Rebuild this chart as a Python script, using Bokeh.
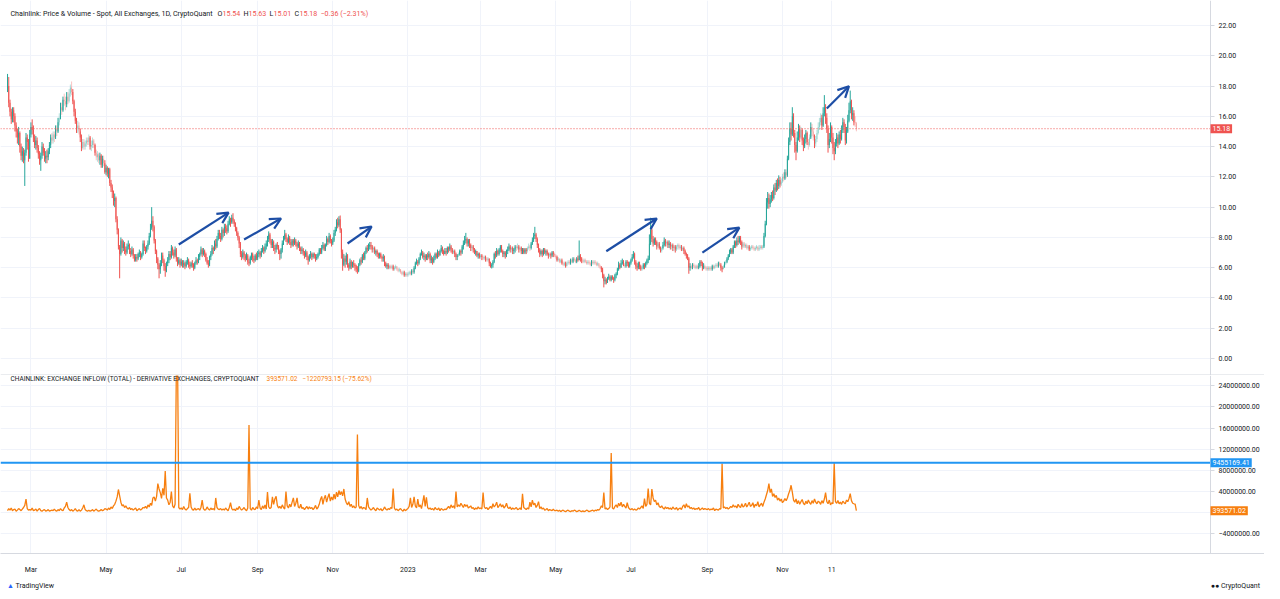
import pandas as pd
from bokeh.plotting import figure
from bokeh.layouts import column
from bokeh.models import (ColumnDataSource, Range1d, FixedTicker, Span, Label,
                          Arrow, OpenHead, Div, BoxAnnotation)
from bokeh.embed import file_html
from bokeh.resources import INLINE

# ---------------- DATA ----------------
start_date = "2022-02-10"
first_open = 17.9

# daily close / high / low, one list per month
c22_02 = [18.6,16.9,16.3,15.8,16.4,16.0,15.4,15.0,14.6,14.9,14.0,13.4,13.7,13.1,13.6,14.6,14.3,13.2,14.8]
h22_02 = [18.8,18.0,17.1,16.5,16.6,16.6,16.2,15.6,15.2,15.3,15.0,14.2,14.0,13.9,13.8,14.9,14.8,14.5,15.1]
l22_02 = [17.6,16.6,16.0,15.5,15.6,15.6,15.0,14.6,14.2,14.1,13.6,13.1,13.0,12.9,11.4,13.4,13.8,13.0,13.2]
c22_03 = [15.3,15.1,14.6,14.1,14.4,13.9,13.5,13.1,13.4,14.0,13.6,13.2,13.4,13.3,13.7,14.1,14.6,14.4,14.8,14.6,15.2,15.0,15.6,15.9,16.6,16.4,17.1,17.0,16.8,17.3,17.0]
h22_03 = [15.6,15.8,15.4,14.8,14.7,14.6,14.1,13.7,13.6,14.3,14.2,13.9,13.7,13.8,13.9,14.3,14.8,14.9,15.0,15.0,15.4,15.4,15.9,16.2,16.9,16.9,17.3,17.5,17.3,17.6,17.6]
l22_03 = [14.6,14.8,14.3,13.9,13.8,13.6,13.2,12.8,12.4,13.2,13.4,13.0,12.9,12.9,13.1,13.5,13.9,14.2,14.2,14.3,14.5,14.7,14.9,15.4,15.8,16.1,16.3,16.7,16.4,16.6,16.8]
c22_04 = [17.5,17.9,17.6,17.0,16.3,15.7,15.2,15.4,15.0,14.6,13.9,14.3,14.0,14.2,14.4,14.3,14.6,14.0,14.1,14.4,14.1,13.6,13.3,13.5,13.1,13.4,12.8,13.2,12.9,12.3]
h22_04 = [17.8,18.1,18.3,17.8,17.1,16.5,15.9,15.7,15.6,15.2,14.8,14.5,14.5,14.4,14.6,14.6,14.8,14.7,14.4,14.6,14.5,14.2,13.8,13.7,13.6,13.6,13.5,13.4,13.4,13.1]
l22_04 = [16.9,17.3,17.4,16.8,16.0,15.5,14.9,14.9,14.8,14.3,13.7,13.8,13.8,13.8,14.0,14.1,14.1,13.8,13.7,13.9,13.9,13.4,13.1,13.0,12.9,12.8,12.6,12.6,12.7,12.2]
c22_05 = [12.6,12.2,12.5,11.6,11.3,11.0,10.4,10.6,9.2,8.5,7.4,6.9,7.8,7.3,7.6,7.2,7.0,7.4,7.5,7.1,6.9,7.2,6.8,6.5,6.7,6.6,6.9,7.0,6.7,6.9,7.6]
h22_05 = [12.8,12.7,12.6,12.6,11.8,11.5,11.1,10.9,10.7,9.4,8.6,7.5,8.0,7.9,7.8,7.7,7.4,7.6,7.8,7.6,7.3,7.4,7.3,6.9,6.9,6.9,7.0,7.2,7.1,7.0,7.8]
l22_05 = [12.1,12.0,11.9,11.4,11.0,10.6,10.1,10.0,9.0,8.2,7.2,5.3,6.8,7.0,7.1,6.9,6.8,6.9,7.2,6.9,6.7,6.8,6.6,6.4,6.4,6.4,6.5,6.7,6.5,6.6,6.8]
c22_06 = [7.3,7.1,7.4,7.6,8.1,8.6,9.1,8.7,7.8,7.1,6.6,6.2,5.9,6.3,6.8,6.5,6.1,5.8,6.3,6.5,6.9,6.7,7.3,7.0,6.8,7.2,6.6,6.3,6.5,6.2]
h22_06 = [7.8,7.4,7.5,7.8,8.3,8.9,10.0,9.4,8.8,7.9,7.2,6.7,6.3,6.5,7.0,7.0,6.6,6.3,6.4,6.7,7.1,7.1,7.5,7.4,7.2,7.4,7.3,6.7,6.7,6.6]
l22_06 = [7.1,6.9,7.0,7.2,7.5,8.0,8.5,8.4,7.6,6.9,6.3,5.9,5.3,5.6,6.1,6.3,5.8,5.4,5.7,6.1,6.3,6.5,6.6,6.8,6.6,6.7,6.4,6.1,6.2,6.0]
c22_07 = [6.4,6.2,6.3,6.1,6.4,6.5,6.2,6.1,6.3,6.2,6.0,6.3,6.5,6.4,6.7,6.9,7.2,6.9,7.1,6.9,6.5,6.3,6.2,6.7,6.9,7.3,7.2,7.6,7.4,7.9,8.3]
h22_07 = [6.6,6.5,6.5,6.4,6.5,6.7,6.6,6.4,6.4,6.5,6.3,6.4,6.7,6.6,6.9,7.0,7.4,7.3,7.3,7.2,7.0,6.7,6.5,6.8,7.1,7.5,7.4,7.8,7.9,8.1,8.5]
l22_07 = [6.1,6.0,6.0,5.9,6.0,6.2,6.0,5.9,6.0,6.0,5.8,5.9,6.2,6.2,6.3,6.5,6.8,6.7,6.8,6.7,6.4,6.2,6.0,6.1,6.5,6.8,6.9,7.1,7.2,7.3,7.8]
c22_08 = [8.1,7.9,8.5,8.3,8.7,8.6,8.4,8.9,9.2,9.0,9.3,9.1,8.9,8.6,8.3,8.0,7.6,6.9,6.7,7.0,6.8,6.6,6.8,6.4,6.3,6.7,6.9,6.6,6.5,6.8,6.6]
h22_08 = [8.5,8.3,8.7,8.6,8.9,8.9,8.8,9.1,9.4,9.3,9.5,9.6,9.2,9.0,8.7,8.4,8.1,7.7,7.1,7.2,7.1,6.9,7.0,6.9,6.6,6.8,7.0,7.0,6.8,6.9,7.0]
l22_08 = [7.9,7.7,7.8,8.0,8.1,8.3,8.2,8.3,8.8,8.7,8.9,8.9,8.7,8.4,8.1,7.8,7.3,6.7,6.5,6.6,6.5,6.4,6.5,6.2,6.1,6.2,6.5,6.4,6.3,6.4,6.5]
c22_09 = [6.9,7.0,6.8,7.1,7.3,7.1,7.4,7.6,7.9,8.2,7.8,7.5,7.7,7.3,7.2,7.5,7.4,7.1,6.9,7.2,7.6,7.9,8.2,7.9,7.7,8.0,7.7,7.5,7.8,7.6]
h22_09 = [7.1,7.2,7.1,7.3,7.5,7.4,7.6,7.8,8.1,8.4,8.3,7.9,7.9,7.8,7.5,7.6,7.7,7.5,7.2,7.3,7.8,8.1,8.5,8.3,8.0,8.2,8.1,7.9,7.9,7.9]
l22_09 = [6.5,6.7,6.6,6.7,7.0,6.9,7.0,7.2,7.4,7.7,7.6,7.3,7.3,7.1,6.9,7.0,7.2,6.9,6.5,6.6,7.0,7.5,7.8,7.7,7.5,7.6,7.5,7.3,7.4,7.4]
c22_10 = [7.8,7.6,7.4,7.6,7.3,7.1,7.2,7.0,6.8,7.0,6.7,6.5,6.8,6.9,6.7,6.9,6.8,6.6,6.7,6.9,7.2,7.0,7.3,7.5,7.2,7.5,7.9,7.7,8.1,7.8,7.6]
h22_10 = [8.0,7.9,7.7,7.8,7.7,7.4,7.4,7.3,7.1,7.2,7.1,6.8,6.9,7.1,7.0,7.0,7.0,6.9,6.9,7.0,7.3,7.3,7.5,7.7,7.6,7.6,8.1,8.0,8.3,8.2,7.9]
l22_10 = [7.5,7.4,7.2,7.3,7.1,6.9,6.9,6.8,6.6,6.7,6.5,6.2,6.4,6.6,6.5,6.6,6.6,6.4,6.5,6.6,6.8,6.9,6.9,7.2,7.1,7.1,7.4,7.5,7.6,7.6,7.4]
c22_11 = [7.8,8.3,8.5,9.0,8.8,9.2,8.5,7.0,6.2,6.6,6.4,6.8,6.2,6.0,6.4,6.1,6.3,6.2,6.1,5.9,5.8,6.2,6.5,6.4,6.8,6.6,7.0,7.3,7.2,7.4]
h22_11 = [8.0,8.5,8.7,9.2,9.3,9.4,9.45,8.6,7.2,6.9,6.8,7.0,6.9,6.3,6.6,6.5,6.4,6.5,6.3,6.2,6.1,6.3,6.6,6.7,6.9,7.0,7.1,7.4,7.5,7.6]
l22_11 = [7.5,7.7,8.1,8.4,8.6,8.7,8.3,6.6,5.8,6.1,6.0,6.2,6.0,5.8,5.9,5.9,6.0,6.0,5.8,5.7,5.6,5.7,6.1,6.2,6.3,6.5,6.5,6.9,7.0,7.1]
c22_12 = [7.5,7.4,7.2,7.3,7.0,7.1,6.9,6.8,6.9,6.7,6.6,6.7,6.3,6.1,6.2,6.0,6.1,6.0,6.1,5.9,6.0,6.1,5.9,5.8,5.9,5.7,5.6,5.7,5.5,5.6,5.5]
h22_12 = [7.7,7.7,7.5,7.4,7.4,7.2,7.2,7.0,7.0,7.0,6.8,6.9,6.8,6.4,6.3,6.3,6.2,6.2,6.2,6.2,6.1,6.2,6.1,6.0,6.0,5.9,5.8,5.8,5.8,5.7,5.7]
l22_12 = [7.2,7.2,7.0,7.0,6.9,6.8,6.7,6.6,6.6,6.6,6.4,6.4,6.1,6.0,5.9,5.9,5.9,5.9,5.9,5.8,5.8,5.9,5.8,5.7,5.7,5.6,5.5,5.5,5.4,5.4,5.4]
c23_01 = [5.6,5.7,5.6,5.8,5.7,6.0,6.3,6.4,6.3,6.6,6.9,7.0,6.7,6.8,6.6,6.8,6.7,6.9,6.5,6.6,6.4,6.6,6.9,6.7,7.0,6.8,7.1,7.3,7.1,6.9,7.1]
h23_01 = [5.7,5.8,5.8,5.9,5.9,6.1,6.4,6.6,6.5,6.7,7.0,7.2,7.1,7.0,6.9,6.9,7.0,7.1,7.0,6.8,6.7,6.8,7.0,7.0,7.2,7.1,7.2,7.5,7.4,7.2,7.3]
l23_01 = [5.4,5.5,5.5,5.5,5.6,5.6,5.9,6.2,6.1,6.2,6.5,6.8,6.6,6.5,6.4,6.5,6.5,6.6,6.3,6.3,6.2,6.3,6.5,6.6,6.6,6.7,6.8,7.0,6.9,6.8,6.9]
c23_02 = [7.0,7.3,7.2,7.4,7.2,7.0,7.1,6.9,6.7,6.8,6.9,7.1,7.0,7.4,7.6,7.8,7.9,7.6,7.8,7.5,7.3,7.4,7.2,7.0,7.1,6.8,6.9,6.7]
h23_02 = [7.3,7.4,7.4,7.6,7.5,7.3,7.2,7.2,7.0,6.9,7.0,7.2,7.2,7.5,7.8,8.1,8.3,8.0,7.9,7.9,7.6,7.5,7.5,7.3,7.2,7.1,7.0,7.0]
l23_02 = [6.8,6.9,7.0,7.1,7.0,6.9,6.9,6.7,6.5,6.5,6.7,6.8,6.8,6.9,7.2,7.5,7.6,7.4,7.4,7.3,7.1,7.1,7.0,6.9,6.8,6.7,6.6,6.6]
c23_03 = [6.8,6.7,6.6,6.7,6.6,6.5,6.6,6.3,6.1,6.2,6.4,6.9,6.8,7.1,6.9,7.2,7.4,7.1,6.9,7.0,6.8,7.1,7.2,7.4,7.2,7.3,7.1,7.2,7.4,7.3,7.4]
h23_03 = [6.9,6.9,6.8,6.8,6.8,6.7,6.7,6.6,6.4,6.3,6.5,7.0,7.1,7.3,7.2,7.3,7.5,7.5,7.2,7.1,7.1,7.2,7.4,7.6,7.5,7.4,7.4,7.3,7.5,7.5,7.6]
l23_03 = [6.6,6.5,6.5,6.5,6.4,6.4,6.4,6.1,6.0,5.95,6.0,6.3,6.6,6.7,6.8,6.8,7.0,7.0,6.7,6.7,6.6,6.7,6.9,7.1,7.0,7.0,6.9,6.9,7.0,7.1,7.2]
c23_04 = [7.2,7.3,7.1,7.2,7.0,7.2,7.1,7.3,7.4,7.3,7.6,7.8,8.1,8.2,7.9,7.5,7.2,6.9,7.1,6.9,7.2,7.0,7.1,6.9,6.8,6.9,6.8,7.0,6.9,6.8]
h23_04 = [7.5,7.4,7.4,7.3,7.3,7.3,7.3,7.4,7.6,7.5,7.7,8.0,8.3,8.7,8.3,8.0,7.6,7.3,7.2,7.2,7.3,7.3,7.2,7.2,7.0,7.0,7.0,7.1,7.1,7.0]
l23_04 = [7.0,7.0,6.9,6.9,6.9,6.9,6.9,7.0,7.2,7.1,7.2,7.5,7.7,7.9,7.7,7.3,7.0,6.7,6.8,6.7,6.8,6.9,6.8,6.8,6.6,6.7,6.6,6.7,6.7,6.7]
c23_05 = [6.7,6.5,6.6,6.4,6.5,6.3,6.2,6.3,6.1,6.3,6.4,6.3,6.5,6.4,6.6,6.5,6.4,6.6,6.5,6.8,6.6,6.5,6.4,6.5,6.4,6.3,6.4,6.3,6.2,6.4,6.3]
h23_05 = [6.9,6.8,6.7,6.6,6.6,6.6,6.4,6.4,6.4,6.4,6.5,6.5,6.6,6.6,6.7,6.7,6.6,6.7,6.8,7.8,6.9,6.7,6.6,6.6,6.6,6.5,6.5,6.5,6.4,6.5,6.5]
l23_05 = [6.6,6.4,6.4,6.3,6.3,6.2,6.1,6.1,6.0,6.1,6.2,6.2,6.2,6.3,6.3,6.4,6.3,6.3,6.4,6.5,6.4,6.3,6.3,6.3,6.3,6.2,6.2,6.2,6.1,6.1,6.2]
c23_06 = [6.4,6.3,6.2,6.3,6.1,6.0,5.9,5.5,5.1,5.2,5.0,5.3,5.4,5.2,5.4,5.3,5.2,5.5,5.6,5.9,6.2,6.0,6.3,6.4,6.2,6.1,6.4,6.3,6.1,6.3]
h23_06 = [6.5,6.5,6.4,6.4,6.3,6.2,6.1,6.0,5.6,5.4,5.3,5.4,5.6,5.5,5.5,5.5,5.4,5.6,5.7,6.0,6.4,6.3,6.5,6.6,6.5,6.3,6.5,6.5,6.4,6.4]
l23_06 = [6.2,6.2,6.1,6.1,6.0,5.9,5.7,5.3,4.7,4.9,4.9,5.0,5.2,5.1,5.1,5.2,5.0,5.1,5.3,5.5,5.8,5.9,6.0,6.2,6.1,6.0,6.0,6.1,6.0,6.0]
c23_07 = [6.5,6.7,6.9,6.4,6.1,6.0,6.3,6.1,5.9,6.0,6.2,6.1,6.3,6.5,6.6,7.6,8.5,7.9,7.6,7.9,7.7,7.4,7.6,7.3,7.1,7.3,7.5,7.8,7.6,7.7,7.5]
h23_07 = [6.6,6.9,7.1,7.0,6.5,6.3,6.4,6.4,6.2,6.1,6.3,6.3,6.4,6.6,6.8,8.2,9.3,8.6,8.1,8.0,8.0,7.8,7.7,7.7,7.4,7.4,7.7,8.0,7.9,7.8,7.8]
l23_07 = [6.2,6.4,6.6,6.2,5.9,5.8,5.9,5.9,5.8,5.8,5.9,5.9,6.0,6.2,6.3,6.5,7.5,7.7,7.4,7.5,7.5,7.2,7.3,7.2,7.0,7.0,7.2,7.4,7.4,7.4,7.3]
c23_08 = [7.6,7.4,7.5,7.3,7.4,7.2,7.4,7.5,7.3,7.4,7.2,7.3,7.1,6.9,6.8,6.6,6.0,6.1,6.0,6.2,6.1,6.0,6.1,6.0,6.1,6.4,6.3,6.0,6.1,6.0,5.9]
h23_08 = [7.8,7.7,7.6,7.6,7.5,7.5,7.5,7.6,7.6,7.5,7.5,7.4,7.4,7.2,7.0,6.9,6.7,6.3,6.2,6.3,6.3,6.2,6.2,6.2,6.3,6.5,6.5,6.4,6.3,6.2,6.1]
l23_08 = [7.3,7.2,7.2,7.1,7.1,7.0,7.1,7.2,7.2,7.2,7.1,7.1,6.9,6.8,6.6,6.5,5.6,5.8,5.9,5.9,6.0,5.9,5.9,5.9,5.9,6.0,6.1,5.8,5.9,5.9,5.8]
c23_09 = [6.0,5.9,6.0,5.9,6.1,6.0,6.1,6.2,6.1,6.3,6.2,6.0,5.9,6.1,6.3,6.4,6.6,6.8,7.0,7.2,7.0,7.4,7.7,7.5,7.8,7.7,8.0,7.7,7.4,7.6]
h23_09 = [6.1,6.1,6.1,6.1,6.2,6.2,6.2,6.3,6.3,6.4,6.4,6.3,6.1,6.2,6.4,6.5,6.7,6.9,7.2,7.3,7.3,7.5,7.8,7.8,8.0,8.1,8.1,8.1,7.8,7.7]
l23_09 = [5.8,5.8,5.8,5.8,5.8,5.9,5.9,6.0,6.0,6.0,6.1,5.8,5.7,5.9,6.0,6.2,6.3,6.5,6.7,6.9,6.9,6.9,7.3,7.3,7.4,7.5,7.6,7.5,7.2,7.3]
c23_10 = [7.4,7.5,7.3,7.4,7.2,7.3,7.4,7.3,7.2,7.3,7.4,7.2,7.3,7.4,7.3,7.4,8.1,8.9,10.3,10.6,10.2,10.5,10.8,10.6,11.3,11.1,11.6,11.4,11.8,11.5,11.7]
h23_10 = [7.7,7.6,7.6,7.5,7.5,7.4,7.5,7.5,7.4,7.4,7.5,7.4,7.5,7.5,7.5,7.5,8.3,9.1,10.6,11.0,10.9,10.8,11.0,11.1,11.5,11.6,11.8,11.9,12.1,12.0,11.9]
l23_10 = [7.3,7.3,7.2,7.2,7.1,7.1,7.2,7.2,7.1,7.1,7.2,7.1,7.1,7.2,7.2,7.2,7.3,8.0,8.8,9.9,9.9,10.0,10.3,10.4,10.5,10.8,11.0,11.1,11.2,11.3,11.4]
c23_11 = [12.0,11.9,12.3,12.1,13.2,14.3,15.2,14.8,16.0,14.9,14.1,13.7,14.6,15.2,14.6,15.1,14.4,14.0,14.5,14.9,14.3,14.1,14.6,15.3,15.0,14.6,14.2,14.5,14.9,15.3]
h23_11 = [12.2,12.3,12.5,12.5,13.4,14.6,15.6,15.6,16.6,16.2,15.1,14.3,15.0,15.5,15.4,15.3,15.2,14.6,14.8,15.1,15.0,14.5,14.8,15.6,15.5,15.2,14.8,14.7,15.1,15.6]
l23_11 = [11.6,11.7,11.8,11.9,12.0,13.1,14.1,14.4,14.7,14.6,13.6,13.1,13.6,14.4,14.3,14.5,14.1,13.7,13.9,14.2,14.1,13.8,14.0,14.5,14.7,14.4,13.9,14.0,14.3,14.8]
c23_12 = [15.6,15.9,15.4,16.2,16.6,15.9,15.2,14.1,14.5,15.3,14.6,13.9,13.7,14.2,14.6,14.2,14.8,14.5,15.1,15.6,15.3,14.4,15.0,15.7,16.4,17.0,16.1,16.2,15.6,15.54,15.18]
h23_12 = [15.9,16.2,16.1,16.6,17.4,16.8,16.2,15.4,14.9,15.6,15.4,14.9,14.3,14.5,14.9,14.8,15.0,15.1,15.4,15.9,15.8,15.5,15.3,16.1,16.9,17.7,17.1,16.6,16.4,16.0,15.63]
l23_12 = [15.1,15.4,15.1,15.3,16.0,15.5,14.9,13.6,13.9,14.3,14.2,13.5,13.1,13.5,14.0,13.9,14.1,14.2,14.4,14.9,14.9,14.1,14.2,14.9,15.6,16.2,15.8,15.7,15.4,15.3,15.01]

# exchange inflow (derivative exchanges), in millions, one list per month
f22_02 = [0.4,0.8,0.5,0.9,0.4,0.6,0.7,0.3,0.5,0.8,0.6,0.4,0.7,1.0,1.4,2.6,0.8,0.5,0.6]
f22_03 = [0.5,0.9,0.4,0.5,0.7,0.3,0.6,0.8,0.4,0.3,0.5,0.6,0.3,0.4,0.6,0.3,0.4,0.5,0.4,0.7,0.4,0.3,0.6,0.4,0.8,0.5,0.4,0.9,1.2,2.0,1.0]
f22_04 = [0.6,0.4,0.6,0.3,0.5,0.8,0.4,0.3,0.6,0.3,0.5,0.9,1.5,0.6,0.4,0.3,0.5,0.3,0.4,0.6,0.3,0.5,0.7,0.4,0.3,0.4,0.6,0.4,0.5,0.8]
f22_05 = [0.7,0.5,0.9,0.6,1.1,0.8,1.3,1.6,2.2,3.0,4.4,3.2,2.0,1.3,1.5,1.0,1.3,0.9,0.7,1.0,0.6,0.8,0.5,0.7,0.9,0.4,0.6,0.8,0.5,0.7,1.0]
f22_06 = [0.9,1.2,0.8,1.5,1.1,1.8,1.4,2.8,3.0,2.2,3.1,5.5,4.5,3.8,2.7,4.6,3.3,7.9,2.8,2.4,1.5,2.0,4.0,1.3,0.9,1.6,26.5,29.0,1.0,0.7]
f22_07 = [0.9,0.6,1.2,0.7,0.5,0.8,1.0,3.7,1.1,0.6,0.5,0.9,0.5,0.7,0.8,0.5,1.0,2.4,0.8,0.5,0.6,1.1,0.7,0.5,0.9,0.6,0.8,0.5,2.8,1.0,0.7]
f22_08 = [0.6,0.8,0.5,0.7,0.5,0.9,0.6,0.4,1.0,1.9,0.8,0.5,0.7,0.4,0.9,0.6,1.2,0.8,0.5,0.7,1.0,0.6,0.4,0.9,16.6,0.8,0.5,1.0,0.7,0.6,1.1]
f22_09 = [0.8,2.4,0.9,0.6,1.3,0.8,1.5,0.7,3.9,1.1,0.8,1.0,3.0,1.6,2.6,3.1,1.4,0.9,1.2,0.8,1.5,1.0,0.7,4.0,1.3,0.9,1.6,1.1,2.0,2.8]
f22_10 = [1.2,1.8,2.8,1.1,0.9,1.6,0.8,1.0,0.6,0.9,1.2,0.7,1.1,0.8,1.0,0.6,0.9,1.4,0.7,1.0,1.6,2.5,3.1,1.6,2.7,3.3,2.0,2.9,3.6,2.2,3.0]
f22_11 = [2.4,3.5,2.6,3.9,3.0,4.2,3.4,4.0,3.2,4.5,2.6,1.9,1.5,2.1,1.2,1.6,1.0,1.3,0.9,1.1,14.8,1.4,0.8,1.2,0.7,1.0,0.9,0.6,2.8,1.1]
f22_12 = [0.8,0.5,0.7,1.0,0.6,0.4,0.9,0.7,0.5,0.8,0.4,0.6,1.1,0.7,0.5,0.8,0.6,1.0,0.8,4.6,0.9,0.5,0.7,0.4,0.6,0.8,0.5,0.3,0.7,0.4,0.6]
f23_01 = [0.8,1.2,2.8,1.0,1.6,3.0,1.3,0.9,2.6,1.1,1.5,0.8,2.0,3.3,1.2,2.9,1.0,0.7,0.9,0.6,0.8,0.5,1.0,0.7,0.6,0.9,0.4,0.8,0.6,0.5,0.7]
f23_02 = [0.6,0.9,1.2,0.8,1.5,1.0,1.3,0.8,4.0,1.1,1.5,1.2,1.8,1.4,1.0,1.6,1.2,1.5,0.9,1.1,1.3,0.8,1.0,0.6,0.9,0.7,1.1,0.8]
f23_03 = [0.9,0.7,3.8,1.1,0.8,1.0,0.6,0.9,1.2,0.8,1.7,1.1,1.4,2.0,1.0,1.3,1.7,1.1,1.5,0.9,1.2,1.8,1.0,0.8,1.1,0.6,0.9,0.7,0.8,1.0,0.6]
f23_04 = [0.7,0.9,0.6,3.6,1.0,0.8,0.6,0.9,0.7,2.0,1.1,2.4,1.5,1.8,1.0,1.4,2.1,0.8,1.1,0.7,0.9,0.5,0.6,0.8,0.4,0.6,0.5,0.4,0.7,0.4]
f23_05 = [0.4,0.5,0.3,0.5,0.2,0.4,0.5,0.3,0.2,0.4,0.5,0.3,0.2,0.4,0.3,0.5,0.4,0.2,0.3,0.5,0.3,0.2,0.4,0.2,0.3,0.5,0.4,0.2,0.3,0.4,0.5]
f23_06 = [0.3,0.5,0.4,0.6,0.5,0.8,1.3,1.0,3.8,0.7,0.9,0.6,0.8,1.1,11.3,0.9,0.7,1.2,1.5,1.0,1.8,1.3,2.0,1.1,1.6,1.2,0.9,1.9,1.0,0.7]
f23_07 = [0.6,0.8,0.5,0.7,0.5,0.6,0.9,0.7,1.0,1.3,0.8,2.7,1.2,1.6,4.6,1.8,1.5,4.5,2.8,2.1,2.4,1.5,1.9,1.2,1.0,1.3,0.9,0.7,1.1,0.8,1.0]
f23_08 = [0.7,0.9,0.6,1.1,0.8,0.7,1.0,0.5,0.8,0.9,0.6,1.2,1.5,0.9,1.7,1.1,1.3,0.8,1.0,0.7,0.9,0.6,0.8,0.7,1.0,0.5,0.7,0.9,0.6,0.8,0.7]
f23_09 = [0.6,0.8,0.5,0.7,0.6,0.9,0.4,0.7,0.6,0.5,0.8,0.7,9.3,0.9,1.1,0.8,1.0,0.7,0.9,1.2,1.0,1.5,1.1,1.3,0.9,1.6,1.2,1.0,1.7,1.1]
f23_10 = [1.3,1.8,1.1,1.5,2.0,1.2,1.4,1.9,1.0,1.6,1.3,2.1,1.1,1.5,1.8,1.2,2.0,2.6,3.4,4.2,5.5,3.8,4.5,3.1,3.6,2.9,3.3,2.4,2.8,2.2,2.6]
f23_11 = [1.9,2.2,2.7,2.3,2.8,3.6,4.2,5.2,3.9,2.4,2.0,2.6,1.7,2.3,1.6,2.1,2.5,1.8,1.5,2.2,1.7,2.4,1.9,1.6,2.3,1.8,2.6,2.0,1.7,2.2]
f23_12 = [2.0,1.6,2.3,1.8,2.6,3.8,2.1,1.7,2.4,1.5,1.9,1.7,9.46,2.1,1.8,2.3,1.7,2.0,1.6,2.2,1.9,1.7,2.4,2.1,2.7,3.6,2.3,1.8,1.7,1.614,0.394]

inflow_level = 9455169.41     # horizontal reference line
last_inflow = 393571.02
price_change_text = "\u22120.36 (\u22122.31%)"
inflow_change_text = "\u22121220793.15 (\u221275.62%)"

price_ticks = [0, 2, 4, 6, 8, 10, 12, 14, 16, 18, 20, 22]
inflow_ticks = [-4000000, 0, 4000000, 8000000, 12000000, 16000000, 20000000, 24000000]
inflow_tick_labels = ["\u22124000000.00", "", "4000000.00", "8000000.00", "12000000.00",
                      "16000000.00", "20000000.00", "24000000.00"]
time_ticks = ["2022-03-01", "2022-05-01", "2022-07-01", "2022-09-01", "2022-11-01", "2023-01-01",
              "2023-03-01", "2023-05-01", "2023-07-01", "2023-09-01", "2023-11-01", "2023-12-11"]
time_labels = ["Mar", "May", "Jul", "Sep", "Nov", "2023", "Mar", "May", "Jul", "Sep", "Nov", "11"]

# hand-drawn arrows (start date, start price, end date, end price)
arrow_x0 = ["2022-06-29", "2022-08-21", "2022-11-13", "2023-06-11", "2023-08-28", "2023-12-07"]
arrow_y0 = [7.53, 7.86, 7.60, 7.09, 7.00, 16.51]
arrow_x1 = ["2022-08-08 10:00", "2022-09-20", "2022-12-02 12:00", "2023-07-22", "2023-09-27", "2023-12-25"]
arrow_y1 = [9.64, 9.25, 8.72, 9.25, 8.65, 17.99]

# ---------------- BUILD ----------------
closes = (c22_02 + c22_03 + c22_04 + c22_05 + c22_06 + c22_07 + c22_08 + c22_09 + c22_10 + c22_11 + c22_12 +
          c23_01 + c23_02 + c23_03 + c23_04 + c23_05 + c23_06 + c23_07 + c23_08 + c23_09 + c23_10 + c23_11 + c23_12)
highs = (h22_02 + h22_03 + h22_04 + h22_05 + h22_06 + h22_07 + h22_08 + h22_09 + h22_10 + h22_11 + h22_12 +
         h23_01 + h23_02 + h23_03 + h23_04 + h23_05 + h23_06 + h23_07 + h23_08 + h23_09 + h23_10 + h23_11 + h23_12)
lows = (l22_02 + l22_03 + l22_04 + l22_05 + l22_06 + l22_07 + l22_08 + l22_09 + l22_10 + l22_11 + l22_12 +
        l23_01 + l23_02 + l23_03 + l23_04 + l23_05 + l23_06 + l23_07 + l23_08 + l23_09 + l23_10 + l23_11 + l23_12)
inflow_m = (f22_02 + f22_03 + f22_04 + f22_05 + f22_06 + f22_07 + f22_08 + f22_09 + f22_10 + f22_11 + f22_12 +
            f23_01 + f23_02 + f23_03 + f23_04 + f23_05 + f23_06 + f23_07 + f23_08 + f23_09 + f23_10 + f23_11 + f23_12)

n = min(len(closes), len(highs), len(lows))
closes, highs, lows = closes[:n], highs[:n], lows[:n]
dates = pd.date_range(start_date, periods=n, freq="D")
opens = [first_open] + closes[:-1]

UP, DOWN = "#26a69a", "#ef5350"
colors, alphas, tops, bots = [], [], [], []
for o, h, l, c in zip(opens, highs, lows, closes):
    colors.append(UP if c >= o else DOWN)
    alphas.append(1.0 if (h - l) / c > 0.055 else 0.35)
    tops.append(max(o, c))
    bots.append(min(o, c))
src = ColumnDataSource(dict(x=dates, h=highs, l=lows, top=tops, bottom=bots, color=colors, alpha=alphas))

fdates = pd.date_range(start_date, periods=len(inflow_m), freq="D")
inflow = [v * 1e6 for v in inflow_m]

DAY = 86400000.0
def ms(s):
    return pd.Timestamp(s).value / 1e6

# ---- layout geometry ----
W = 1264
AXIS_PX = 1210          # where the price scale begins
PX_PER_DAY = 1.232
x0_ms = ms("2022-02-04 07:00")
axis_ms = x0_ms + AXIS_PX / PX_PER_DAY * DAY
x_range = Range1d(x0_ms, x0_ms + W / PX_PER_DAY * DAY)

FONT = "Roboto"
GRID = "#f0f3fa"
AXC = "#d6d9e0"
TXT = "#131722"
ORANGE = "#f77f0f"
BLUE = "#2196f3"
ARROW = "#1d4ea5"
AX_FS = "7px"
tick_ms = [ms(t) for t in time_ticks]

def style(p):
    p.outline_line_color = None
    p.background_fill_color = "white"
    p.border_fill_color = "white"
    p.ygrid.grid_line_color = GRID
    p.xgrid.grid_line_color = GRID
    p.xgrid.ticker = FixedTicker(ticks=tick_ms)
    # keep the price-scale strip free of grid lines
    p.add_layout(BoxAnnotation(left=axis_ms, fill_color="white", fill_alpha=1.0,
                               line_color=None, level="underlay"))
    ax = p.yaxis[0]
    ax.fixed_location = axis_ms
    ax.axis_line_color = AXC
    ax.major_tick_line_color = AXC
    ax.major_tick_out = 4
    ax.major_tick_in = 0
    ax.minor_tick_line_color = None
    ax.major_label_text_font = FONT
    ax.major_label_text_font_size = AX_FS
    ax.major_label_text_color = TXT
    ax.major_label_standoff = 4

def axis_box(p, y, text, color):
    p.add_layout(Label(x=AXIS_PX, y=y, x_units="screen", text=text,
                       text_font=FONT, text_font_size=AX_FS, text_color="white",
                       text_baseline="middle", background_fill_color=color, padding=2))

def hdr(p, x, y, text, color, size="7.1px"):
    p.add_layout(Label(x=x, y=y, x_units="screen", y_units="screen", text=text,
                       text_font=FONT, text_font_size=size, text_color=color,
                       text_baseline="middle"))

# ---- price pane ----
H_TOP = 375
p_top = figure(width=W, height=H_TOP, x_axis_type="datetime", y_axis_location="right",
               x_range=x_range, y_range=Range1d(-1.12, 23.65), toolbar_location=None,
               output_backend="svg", min_border_left=0, min_border_right=0,
               min_border_top=0, min_border_bottom=0)
style(p_top)
p_top.xaxis.visible = False
p_top.yaxis.ticker = FixedTicker(ticks=price_ticks)
p_top.yaxis.major_label_overrides = {t: f"{t:.2f}" for t in price_ticks}
p_top.ygrid.ticker = FixedTicker(ticks=price_ticks)

p_top.segment(x0="x", y0="l", x1="x", y1="h", line_color="color", line_alpha="alpha",
              line_width=1, source=src)
p_top.vbar(x="x", width=0.75 * DAY, top="top", bottom="bottom", fill_color="color",
           fill_alpha="alpha", line_color=None, source=src)

# last-price dotted line up to the price scale
p_top.segment(x0=[x0_ms], y0=[closes[-1]], x1=[axis_ms], y1=[closes[-1]],
              line_color=DOWN, line_dash="1 2", line_width=1)
p_top.add_layout(Span(location=-1.12, dimension="width", line_color=AXC, line_width=2))

for xa0, ya0, xa1, ya1 in zip(arrow_x0, arrow_y0, arrow_x1, arrow_y1):
    p_top.add_layout(Arrow(end=OpenHead(size=11, line_color=ARROW, line_width=2.2),
                           x_start=ms(xa0), y_start=ya0, x_end=ms(xa1), y_end=ya1,
                           line_color=ARROW, line_width=2.2))

y_hdr = H_TOP - 13
hdr(p_top, 10, y_hdr, "Chainlink: Price & Volume - Spot, All Exchanges, 1D, CryptoQuant", TXT)
o, h, l, c = opens[-1], highs[-1], lows[-1], closes[-1]
parts = [(217, "O", TXT), (222, f"{o:.2f}", DOWN), (243, "H", TXT), (248, f"{h:.2f}", DOWN),
         (269, "L", TXT), (273, f"{l:.2f}", DOWN), (294, "C", TXT), (299, f"{c:.2f}", DOWN),
         (320, price_change_text, DOWN)]
for x, t, col in parts:
    hdr(p_top, x, y_hdr, t, col)
axis_box(p_top, closes[-1], f"{closes[-1]:.2f}", DOWN)

# ---- inflow pane ----
H_BOT_FRAME = 185
p_bot = figure(width=W, height=H_BOT_FRAME + 16, x_axis_type="datetime", y_axis_location="right",
               x_range=x_range, y_range=Range1d(-7.7e6, 25.95e6), toolbar_location=None,
               output_backend="svg", min_border_left=0, min_border_right=0,
               min_border_top=0, min_border_bottom=0)
style(p_bot)
p_bot.yaxis.ticker = FixedTicker(ticks=inflow_ticks)
p_bot.yaxis.major_label_overrides = dict(zip(inflow_ticks, inflow_tick_labels))
p_bot.ygrid.ticker = FixedTicker(ticks=inflow_ticks)
xa = p_bot.xaxis[0]
xa.ticker = FixedTicker(ticks=tick_ms)
xa.major_label_overrides = dict(zip(tick_ms, time_labels))
xa.axis_line_color = AXC
xa.major_tick_line_color = None
xa.minor_tick_line_color = None
xa.major_label_text_font = FONT
xa.major_label_text_font_size = AX_FS
xa.major_label_text_color = TXT
xa.major_label_standoff = 6

p_bot.line(fdates, inflow, line_color=ORANGE, line_width=1.3)
p_bot.segment(x0=[x0_ms], y0=[inflow_level], x1=[axis_ms], y1=[inflow_level],
              line_color=BLUE, line_width=2)

yb = H_BOT_FRAME - 10
hdr(p_bot, 10, yb, "CHAINLINK: EXCHANGE INFLOW (TOTAL) - DERIVATIVE EXCHANGES, CRYPTOQUANT", TXT, "6.5px")
hdr(p_bot, 266, yb, f"{last_inflow:.2f}", ORANGE, "6.5px")
hdr(p_bot, 302, yb, inflow_change_text, ORANGE, "6.5px")

axis_box(p_bot, inflow_level, f"{inflow_level:.2f}", BLUE)
axis_box(p_bot, last_inflow, f"{last_inflow:.2f}", ORANGE)

footer = Div(text=(
    '<div style="display:flex;justify-content:space-between;align-items:center;'
    'width:1264px;height:7px;font-family:Roboto;font-size:7px;color:#131722;">'
    '<span style="padding-left:7px;"><span style="color:#2962ff;font-weight:bold;">&#9650;</span> TradingView</span>'
    '<span style="padding-right:4px;"><span style="font-weight:bold;">&#9679;&#9679;</span> CryptoQuant</span>'
    '</div>'), width=W, height=7, margin=(0, 0, 0, 0))

layout = column(p_top, p_bot, footer, spacing=0)
open("out.html", "w").write(file_html(layout, INLINE))
